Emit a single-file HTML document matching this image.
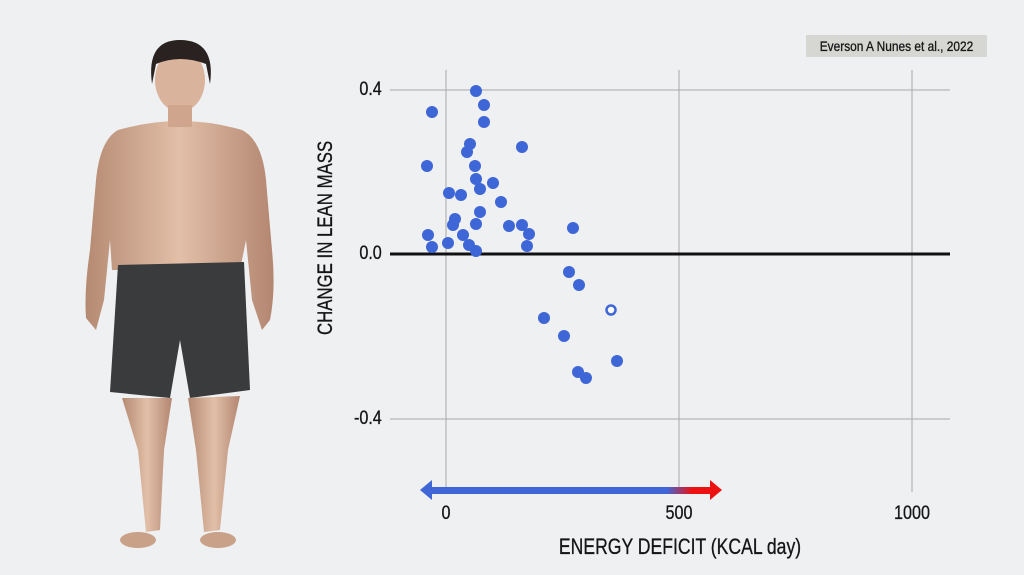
<!DOCTYPE html>
<html><head><meta charset="utf-8"><style>
body{margin:0;width:1024px;height:575px;overflow:hidden;background:#eff0f2;font-family:"Liberation Sans",sans-serif}
.t{position:absolute;color:#151515;white-space:nowrap;transform-origin:center;-webkit-text-stroke:0.3px #151515}
</style></head><body>
<svg width="1024" height="575" style="position:absolute;left:0;top:0">
<defs><linearGradient id="g" x1="0" x2="1"><stop offset="0.84" stop-color="#3f66d6"/><stop offset="0.93" stop-color="#ee1111"/></linearGradient>
<linearGradient id="sk" x1="0" x2="1"><stop offset="0" stop-color="#b58a72"/><stop offset="0.5" stop-color="#e2bfa8"/><stop offset="1" stop-color="#b38670"/></linearGradient></defs>
<g>
<path d="M118 130 Q180 112 242 130 Q262 140 266 180 L272 250 Q276 290 270 320 L262 330 L252 300 L246 240 L240 270 L112 270 L110 240 L104 300 L96 330 L86 318 Q84 290 90 250 L96 180 Q100 140 118 130Z" fill="url(#sk)"/>
<ellipse cx="180" cy="80" rx="25" ry="32" fill="#d9b39b"/>
<path d="M152 84 Q146 40 180 40 Q216 40 210 84 L206 64 Q180 54 156 64Z" fill="#2a2220"/>
<rect x="168" y="105" width="24" height="22" fill="#cfa68d"/>
<path d="M118 265 L244 262 L250 390 L190 398 L180 340 L170 398 L110 392Z" fill="#3a3b3d"/>
<path d="M122 398 L172 398 L164 450 L160 530 L146 532 L138 450Z" fill="url(#sk)"/>
<path d="M188 398 L240 396 L228 450 L220 530 L204 532 L196 450Z" fill="url(#sk)"/>
<ellipse cx="138" cy="540" rx="18" ry="8" fill="#c9a088"/>
<ellipse cx="218" cy="540" rx="18" ry="8" fill="#c9a088"/>
</g>
<g stroke="#a8a8a8" stroke-width="1">
<line x1="446" y1="70" x2="446" y2="492"/><line x1="679" y1="70" x2="679" y2="492"/><line x1="912" y1="70" x2="912" y2="492"/>
<line x1="390" y1="90" x2="950" y2="90"/><line x1="390" y1="419" x2="950" y2="419"/>
</g>
<line x1="390" y1="254" x2="950" y2="254" stroke="#111" stroke-width="3"/>
<rect x="430" y="487" width="282" height="7" fill="url(#g)"/>
<polygon points="420,490 432,480 432,500" fill="#3f66d6"/>
<polygon points="722,490 710,480 710,500" fill="#ee1111"/>
<g fill="#3f66d6">
<circle cx="476" cy="91" r="6"/><circle cx="484" cy="105" r="6"/><circle cx="432" cy="112" r="6"/><circle cx="484" cy="122" r="6"/><circle cx="470" cy="144" r="6"/><circle cx="467" cy="152" r="6"/><circle cx="522" cy="147" r="6"/><circle cx="427" cy="166" r="6"/><circle cx="475" cy="166" r="6"/><circle cx="476" cy="179" r="6"/><circle cx="493" cy="183" r="6"/><circle cx="480" cy="189" r="6"/><circle cx="449" cy="193" r="6"/><circle cx="461" cy="195" r="6"/><circle cx="501" cy="202" r="6"/><circle cx="480" cy="212" r="6"/><circle cx="455" cy="219" r="6"/><circle cx="453" cy="225" r="6"/><circle cx="476" cy="224" r="6"/><circle cx="509" cy="226" r="6"/><circle cx="522" cy="225" r="6"/><circle cx="573" cy="228" r="6"/><circle cx="529" cy="234" r="6"/><circle cx="428" cy="235" r="6"/><circle cx="463" cy="235" r="6"/><circle cx="432" cy="247" r="6"/><circle cx="448" cy="243" r="6"/><circle cx="469" cy="245" r="6"/><circle cx="527" cy="246" r="6"/><circle cx="476" cy="251" r="6"/><circle cx="569" cy="272" r="6"/><circle cx="579" cy="285" r="6"/><circle cx="544" cy="318" r="6"/><circle cx="564" cy="336" r="6"/><circle cx="617" cy="361" r="6"/><circle cx="578" cy="372" r="6"/><circle cx="586" cy="378" r="6"/>
</g>
<circle cx="611" cy="310" r="4.5" fill="#fff" stroke="#3f66d6" stroke-width="2.5"/>
</svg>
<div style="position:absolute;left:806px;top:35px;width:181px;height:22px;background:#d6d6d3"></div>
<div class="t" style="left:806px;top:38px;width:181px;text-align:center;font-size:14px;transform:scaleX(.85)">Everson A Nunes et al., 2022</div>
<div class="t" style="left:330px;top:79px;width:56px;text-align:right;font-size:19px;transform:scaleX(.85)">0.4</div>
<div class="t" style="left:330px;top:243px;width:56px;text-align:right;font-size:19px;transform:scaleX(.85)">0.0</div>
<div class="t" style="left:330px;top:408px;width:56px;text-align:right;font-size:19px;transform:scaleX(.85)">-0.4</div>
<div class="t" style="left:406px;top:503px;width:80px;text-align:center;font-size:19px;transform:scaleX(.85)">0</div>
<div class="t" style="left:639px;top:503px;width:80px;text-align:center;font-size:19px;transform:scaleX(.85)">500</div>
<div class="t" style="left:872px;top:503px;width:80px;text-align:center;font-size:19px;transform:scaleX(.85)">1000</div>
<div class="t" style="left:500px;top:534px;width:360px;text-align:center;font-size:22px;transform:scaleX(.8)">ENERGY DEFICIT (KCAL day)</div>
<div class="t" style="left:226px;top:243px;width:200px;text-align:center;font-size:21px;transform:rotate(-90deg) scaleX(.8)">CHANGE IN LEAN MASS</div>
</body></html>
